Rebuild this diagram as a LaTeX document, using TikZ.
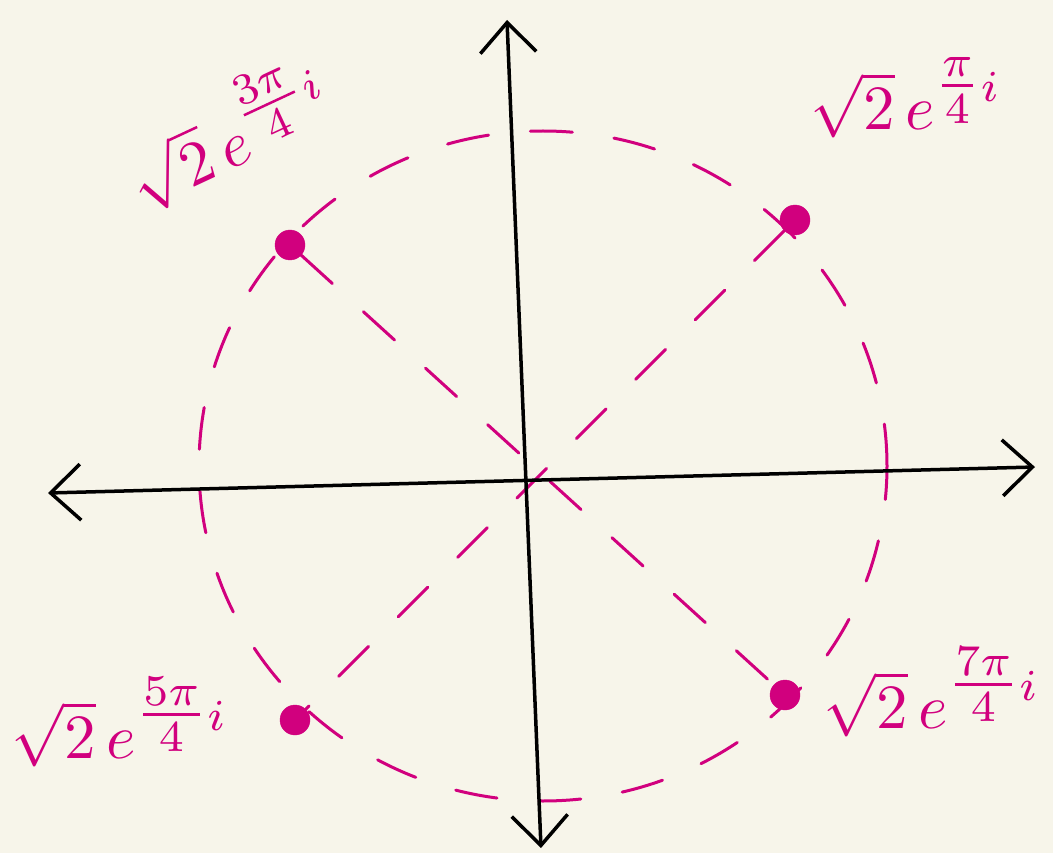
\documentclass[tikz,border=0pt]{standalone}
\usetikzlibrary{arrows.meta}
\definecolor{bg}{HTML}{F7F5EA}
\definecolor{mag}{HTML}{D1007E}
\newcommand{\lab}[1]{$\sqrt{2}\,e^{\textstyle\frac{#1}{4}\scriptstyle i}$}
\begin{document}
\begin{tikzpicture}[x=1pt,y=-1pt,
 axis/.style={line width=3.5pt, black, line cap=round,
   {Straight Barb[length=30pt,width=56pt]}-{Straight Barb[length=30pt,width=56pt]}},
 magdash/.style={mag, line width=3pt, dash pattern=on 42pt off 42pt, line cap=round},
 ptdot/.style={circle, fill=mag, draw=mag, inner sep=0pt, minimum size=30pt},
 lbl/.style={text=mag, scale=6.3, inner sep=0pt}]
\fill[bg] (0,0) rectangle (1053,853);
\useasboundingbox (0,0) rectangle (1053,853);
\coordinate (o) at (543,466);
\draw[magdash] (o) ellipse [x radius=344pt, y radius=335pt];
\node[ptdot] (p1) at (795,220) {};
\node[ptdot] (p2) at (290,245) {};
\node[ptdot] (p3) at (295,720) {};
\node[ptdot] (p4) at (785,695) {};
\draw[magdash] (p2) -- (p4);
\draw[magdash] (p1) -- (p3);
\coordinate (xl) at (48,493);
\coordinate (xr) at (1035,467);
\coordinate (yt) at (507,20);
\coordinate (yb) at (541,848);
\draw[axis] (xl) -- (xr);
\draw[axis] (yb) -- (yt);
\node[lbl] (l1) at (906,98) {\lab{\pi}};
\node[lbl, rotate=25] (l2) at (226,132) {\lab{3\pi}};
\node[lbl] (l3) at (120,722) {\lab{5\pi}};
\node[lbl] (l4) at (932,692) {\lab{7\pi}};
\end{tikzpicture}
\end{document}
